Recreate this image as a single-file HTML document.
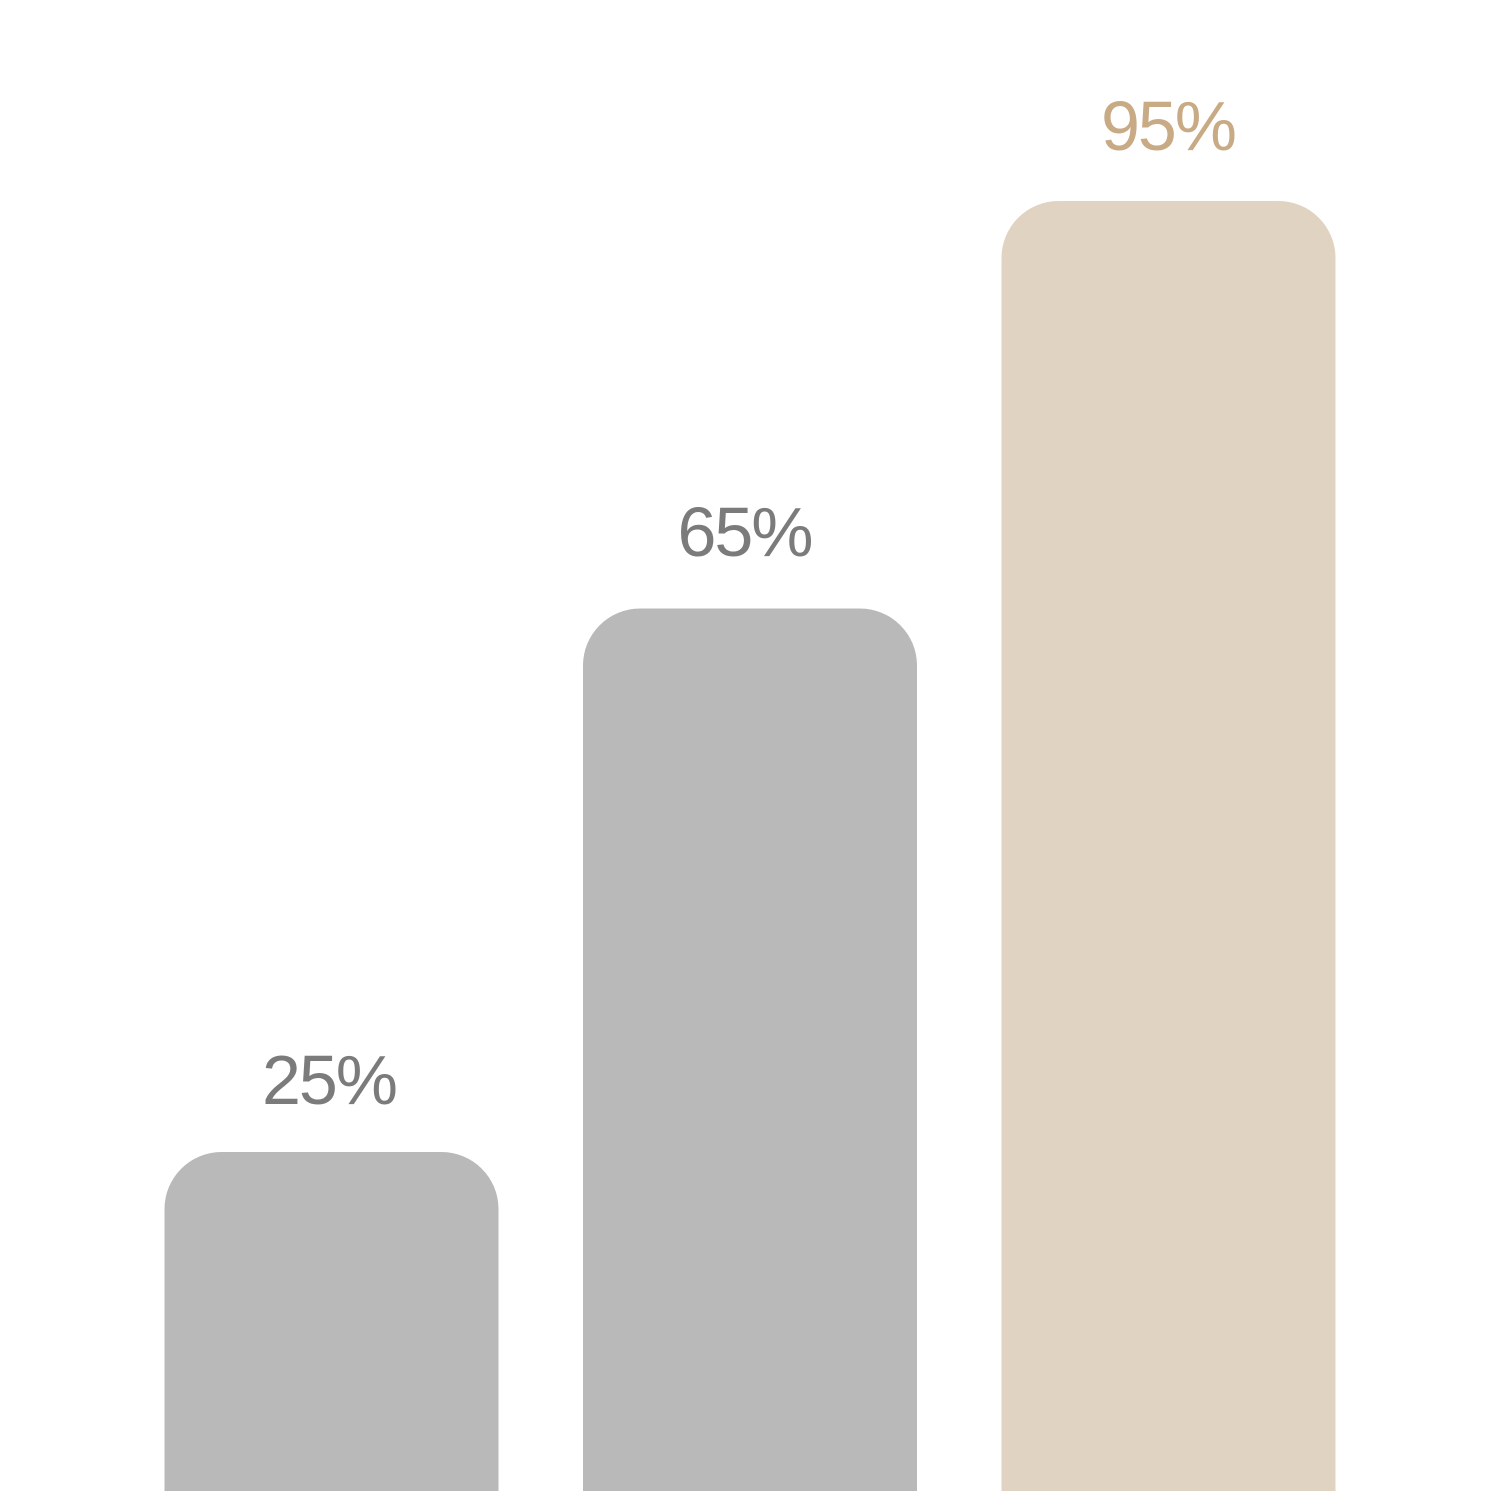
<!DOCTYPE html>
<html>
<head>
<meta charset="utf-8">
<style>
  html, body { margin: 0; padding: 0; background: #ffffff; }
  svg { display: block; }
  text { font-family: "Liberation Sans", "DejaVu Sans", sans-serif; font-weight: normal; }
</style>
</head>
<body>
<svg width="1500" height="1500" viewBox="0 0 1500 1500" xmlns="http://www.w3.org/2000/svg">
  <rect x="0" y="0" width="1500" height="1500" fill="#ffffff"/>
  <!-- Bar 1 -->
  <path d="M164.5,1491 L164.5,1209 A57,57 0 0 1 221.5,1152 L441.5,1152 A57,57 0 0 1 498.5,1209 L498.5,1491 Z" fill="#b9b9b9"/>
  <!-- Bar 2 -->
  <path d="M583,1491 L583,665.5 A57,57 0 0 1 640,608.5 L860,608.5 A57,57 0 0 1 917,665.5 L917,1491 Z" fill="#b9b9b9"/>
  <!-- Bar 3 -->
  <path d="M1001.5,1491 L1001.5,258 A57,57 0 0 1 1058.5,201 L1278.5,201 A57,57 0 0 1 1335.5,258 L1335.5,1491 Z" fill="#e0d3c1"/>
  <!-- Labels -->
  <text x="329" y="1104" font-size="70" fill="#7b7b7b" text-anchor="middle" letter-spacing="-2">25%</text>
  <text x="744.5" y="556" font-size="70" fill="#7b7b7b" text-anchor="middle" letter-spacing="-2">65%</text>
  <text x="1168" y="150" font-size="70" fill="#c8aa85" text-anchor="middle" letter-spacing="-2">95%</text>
</svg>
</body>
</html>
